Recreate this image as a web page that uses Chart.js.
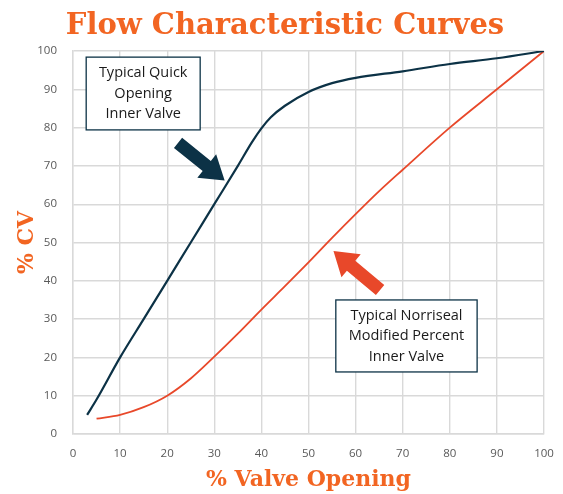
<!DOCTYPE html>
<html>
<head>
<meta charset="utf-8">
<script src="https://cdn.jsdelivr.net/npm/chart.js@4"></script>
<style>
  html, body { margin: 0; padding: 0; background: #fff; }
  #wrap { width: 563px; height: 494px; }
</style>
</head>
<body>
<div id="wrap"><canvas id="flowChart" width="563" height="494"></canvas></div>
<script>
// === Datos ===
const xTicks = [0, 10, 20, 30, 40, 50, 60, 70, 80, 90, 100];
const yTicks = [0, 10, 20, 30, 40, 50, 60, 70, 80, 90, 100];

// Typical Quick Opening Inner Valve
const quickX = [3, 5, 10, 15, 20, 25, 30, 35, 38, 40, 42, 45, 50, 55, 60, 70, 80, 90, 100];
const quickY = [5, 9, 20, 30, 40, 50, 60, 70, 76.2, 79.8, 82.7, 85.7, 89.3, 91.6, 93, 94.7, 96.6, 98.1, 100];

// Typical Norriseal Modified Percent Inner Valve
const norrX = [5, 10, 15, 20, 25, 30, 35, 40, 45, 50, 55, 60, 65, 70, 80, 90, 100];
const norrY = [4, 5, 7, 10, 14.5, 20.2, 26.2, 32.5, 38.6, 44.8, 51.2, 57.4, 63.4, 69, 80, 90, 100];

const navy = "#0c3246";
const orange = "#e8482a";
const titleOrange = "#f26522";

const toPoints = (xs, ys) => xs.map((x, i) => ({ x: x, y: ys[i] }));

// === Notas y flechas (dibujadas sobre el grafico) ===
const notes = [
  { lines: ["Typical Quick", "Opening", "Inner Valve"], x0: 2.8, x1: 27, y0: 98.4, y1: 79.4 },
  { lines: ["Typical Norriseal", "Modified Percent", "Inner Valve"], x0: 55.8, x1: 85.8, y0: 35, y1: 16.2 }
];
const arrows = [
  { from: [22.3, 76], to: [32.2, 66.2], color: navy },
  { from: [65.2, 37.6], to: [55.3, 47.8], color: orange }
];

const annotationsPlugin = {
  id: "annotations",
  afterDatasetsDraw(chart) {
    const { ctx, scales } = chart;
    const sx = scales.x, sy = scales.y;
    ctx.save();

    notes.forEach(n => {
      const l = sx.getPixelForValue(n.x0), r = sx.getPixelForValue(n.x1);
      const t = sy.getPixelForValue(n.y0), b = sy.getPixelForValue(n.y1);
      ctx.fillStyle = "#fff";
      ctx.fillRect(l, t, r - l, b - t);
      ctx.strokeStyle = navy;
      ctx.lineWidth = 1.3;
      ctx.strokeRect(l, t, r - l, b - t);
      ctx.fillStyle = "#1a1a1a";
      ctx.font = "14.5px 'Open Sans'";
      ctx.textAlign = "center";
      ctx.textBaseline = "middle";
      const cx = (l + r) / 2, cy = (t + b) / 2;
      n.lines.forEach((txt, i) => ctx.fillText(txt, cx, cy + (i - 1) * 20.5));
    });

    arrows.forEach(a => {
      const x1 = sx.getPixelForValue(a.from[0]), y1 = sy.getPixelForValue(a.from[1]);
      const x2 = sx.getPixelForValue(a.to[0]), y2 = sy.getPixelForValue(a.to[1]);
      const ang = Math.atan2(y2 - y1, x2 - x1);
      const len = Math.hypot(x2 - x1, y2 - y1);
      const shaft = 6.5, head = 15, headLen = 23;
      ctx.translate(x1, y1);
      ctx.rotate(ang);
      ctx.beginPath();
      ctx.moveTo(0, -shaft);
      ctx.lineTo(len - headLen, -shaft);
      ctx.lineTo(len - headLen, -head);
      ctx.lineTo(len, 0);
      ctx.lineTo(len - headLen, head);
      ctx.lineTo(len - headLen, shaft);
      ctx.lineTo(0, shaft);
      ctx.closePath();
      ctx.fillStyle = a.color;
      ctx.fill();
      ctx.setTransform(1, 0, 0, 1, 0, 0);
    });

    ctx.restore();
  }
};

const ctx = document.getElementById("flowChart").getContext("2d");
const chart = new Chart(ctx, {
  type: "line",
  data: {
    datasets: [
      {
        label: "Typical Quick Opening Inner Valve",
        data: toPoints(quickX, quickY),
        borderColor: navy,
        borderWidth: 2.2,
        pointRadius: 0,
        cubicInterpolationMode: "monotone",
        fill: false
      },
      {
        label: "Typical Norriseal Modified Percent Inner Valve",
        data: toPoints(norrX, norrY),
        borderColor: orange,
        borderWidth: 1.8,
        pointRadius: 0,
        cubicInterpolationMode: "monotone",
        fill: false
      }
    ]
  },
  options: {
    responsive: false,
    animation: false,
    // left 26 / right 19 keeps the title centred where the original sits
    layout: { padding: { left: 26, right: 19, top: 0, bottom: 0 } },
    plugins: {
      legend: { display: false },
      tooltip: { enabled: false },
      title: {
        display: true,
        text: "Flow Characteristic Curves",
        color: titleOrange,
        font: { family: "'DejaVu Serif'", size: 29, weight: "bold" },
        padding: { top: 9, bottom: 7.2 }
      }
    },
    scales: {
      x: {
        type: "linear",
        min: 0,
        max: 100,
        afterBuildTicks: s => { s.ticks = xTicks.map(v => ({ value: v })); },
        afterFit: s => { s.height = 60; s.paddingLeft = 0; s.paddingRight = 0; },
        ticks: { color: "#595959", font: { family: "'Open Sans'", size: 11.5 }, padding: 13 },
        grid: { color: "#d9d9d9", lineWidth: 1.4, drawTicks: false },
        border: { color: "#d9d9d9", width: 1.4 },
        title: {
          display: true,
          text: "% Valve Opening",
          color: titleOrange,
          font: { family: "'DejaVu Serif'", size: 22, weight: "bold" },
          padding: { top: 0, bottom: 1 }
        }
      },
      y: {
        type: "linear",
        min: 0,
        max: 100,
        afterBuildTicks: s => { s.ticks = yTicks.map(v => ({ value: v })); },
        afterFit: s => { s.width = 47; s.paddingTop = 0; s.paddingBottom = 0; },
        ticks: { color: "#595959", font: { family: "'Open Sans'", size: 11.5 }, padding: 16 },
        grid: { color: "#d9d9d9", lineWidth: 1.4, drawTicks: false },
        border: { color: "#d9d9d9", width: 1.4 },
        title: {
          display: true,
          text: "% CV",
          color: titleOrange,
          font: { family: "'DejaVu Serif'", size: 22, weight: "bold" },
          padding: { top: -11.5, bottom: 0 }
        }
      }
    }
  },
  plugins: [annotationsPlugin]
});
</script>
</body>
</html>
